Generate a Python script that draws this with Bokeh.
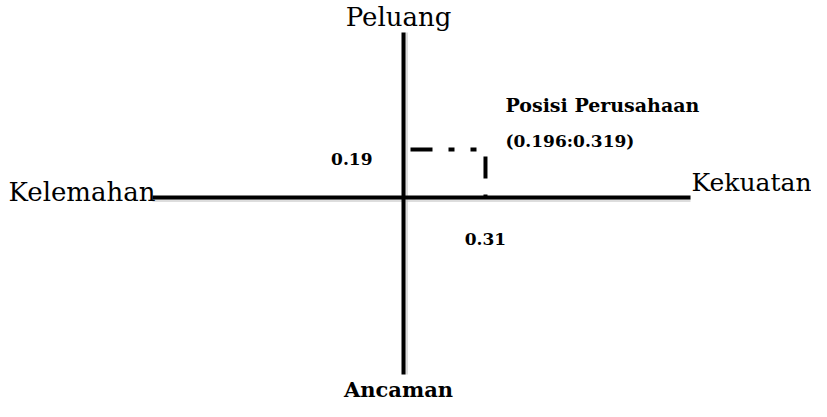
from bokeh.plotting import figure
from bokeh.models import Range1d
from bokeh.core.properties import value
from bokeh.embed import file_html
from bokeh.resources import INLINE

# ---- data ----
axis_labels = ["Peluang", "Kekuatan", "Ancaman", "Kelemahan"]
position_x = 0.319   # strength (Kekuatan) score
position_y = 0.196   # opportunity (Peluang) score
tick_x_label = "0.31"
tick_y_label = "0.19"
position_title = "Posisi Perusahaan"
position_label = "(0.196:0.319)"

# ---- layout (pixel scale of the quadrant) ----
W, H = 811, 401
ox, oy = 403, 197          # origin in figure pixels
sx, sy = 257.0, 245.0      # pixels per unit

def ux(px):
    return (px - ox) / sx

def uy(py):
    return (oy - py) / sy

p = figure(width=W, height=H, output_backend="svg", toolbar_location=None,
           x_range=Range1d(ux(0), ux(W)), y_range=Range1d(uy(H), uy(0)),
           min_border=0, min_border_left=0, min_border_right=0,
           min_border_top=0, min_border_bottom=0)
p.axis.visible = False
p.grid.visible = False
p.outline_line_color = None
p.background_fill_color = "white"
p.border_fill_color = "white"

x_left, x_right = ux(152), ux(690)
y_top, y_bot = uy(32), uy(374)

# subtle shadow
p.line([x_left, x_right], [uy(oy + 3), uy(oy + 3)], line_color="#bbbbbb", line_width=3, line_alpha=0.5)
p.line([ux(ox + 3), ux(ox + 3)], [y_top, y_bot], line_color="#bbbbbb", line_width=3, line_alpha=0.5)

# main cross
p.line([x_left, x_right], [0, 0], line_color="black", line_width=4)
p.line([0, 0], [y_top, y_bot], line_color="black", line_width=4)

# dashed guide to company position
p.line([ux(ox + 7), position_x, position_x], [position_y, position_y, 0],
       line_color="black", line_width=4, line_dash="22 16 6 16 6 16")

serif = value("DejaVu Serif")

def label(x, base_px, txt, size, align, bold=False):
    # base_px: desired baseline in figure pixels; text is placed by its middle
    mid_px = base_px - 0.35 * size
    p.text(x=[x], y=[uy(mid_px)], text=[txt], text_font=serif,
           text_font_size=f"{size}px",
           text_font_style="bold" if bold else "normal", text_align=align,
           text_baseline="middle", text_color="black")

lbl_peluang, lbl_kekuatan, lbl_ancaman, lbl_kelemahan = axis_labels
label(ux(398), 26, lbl_peluang, 26, "center")
label(ux(691), 191, lbl_kekuatan, 25, "left")
label(ux(155), 201, lbl_kelemahan, 26, "right")
label(ux(398), 396, lbl_ancaman, 21, "center", bold=True)

# tick values
label(ux(372), 164, tick_y_label, 17, "right", bold=True)
label(position_x, 244, tick_x_label, 17, "center", bold=True)

# position annotation
label(ux(505), 111, position_title, 19, "left", bold=True)
label(ux(505), 146, position_label, 17, "left", bold=True)

open("out.html", "w").write(file_html(p, INLINE))
